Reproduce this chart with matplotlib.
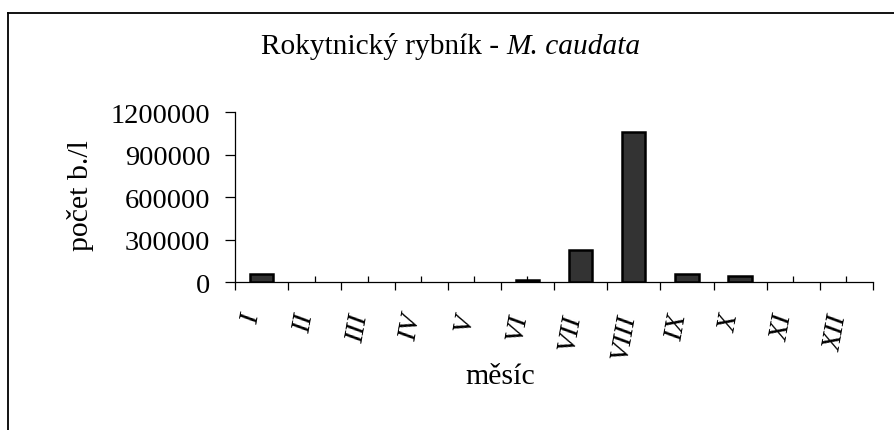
import matplotlib
matplotlib.use("Agg")
import matplotlib.pyplot as plt
from matplotlib.lines import Line2D
from matplotlib.ticker import FixedLocator, NullFormatter, FixedFormatter
from matplotlib.transforms import ScaledTranslation

# Monthly abundance of M. caudata (individuals per litre)
months = ["I", "II", "III", "IV", "V", "VI", "VII", "VIII", "IX", "X", "XI", "XII"]
counts = [60000, 0, 0, 0, 0, 15000, 228000, 1058000, 60000, 42000, 0, 0]
y_ticks = [0, 300000, 600000, 900000, 1200000]

SERIF = ["Liberation Serif", "DejaVu Serif"]
plt.rcParams["font.family"] = SERIF

W, H = 894, 431
fig = plt.figure(figsize=(W / 100, H / 100), dpi=100)

# plot area in pixel coordinates
x0, x1 = 235, 873
y_top, y_base = 113.3, 283.3
ax = fig.add_axes([x0 / W, 1 - y_base / H, (x1 - x0) / W, (y_base - y_top) / H])

pos = list(range(len(months)))
# empty months get no outline so nothing is drawn on the baseline
edge_w = [1.8 if c > 0 else 0 for c in counts]
ax.bar(pos, counts, width=0.44, color="#333333", edgecolor="black", linewidth=edge_w, zorder=3)

ax.set_xlim(-0.5, len(months) - 0.5)
ax.set_ylim(0, 1200000)

for s in ("top", "right"):
    ax.spines[s].set_visible(False)
for s in ("left", "bottom"):
    ax.spines[s].set_color("black")
    ax.spines[s].set_linewidth(0.9)

# category boundaries as outward major ticks, centres as inward minor ticks with labels
ax.xaxis.set_major_locator(FixedLocator([p - 0.5 for p in pos] + [len(months) - 0.5]))
ax.xaxis.set_major_formatter(NullFormatter())
ax.xaxis.set_minor_locator(FixedLocator(pos))
ax.xaxis.set_minor_formatter(FixedFormatter(months))
ax.tick_params(axis="x", which="major", direction="out", length=5.8, width=0.9, color="black")
ax.tick_params(axis="x", which="minor", direction="in", length=4.3, width=0.9, color="black",
               pad=21)

ax.set_yticks(y_ticks)
ax.set_yticklabels([str(v) for v in y_ticks], fontsize=20.5)
ax.tick_params(axis="y", direction="out", length=7, width=0.9, color="black", pad=11)

shift = ScaledTranslation(-10 / 100, 0, fig.dpi_scale_trans)
for lab in ax.xaxis.get_minorticklabels():
    lab.set_rotation(80)
    lab.set_fontstyle("italic")
    lab.set_fontsize(20.5)
    lab.set_ha("center")
    lab.set_va("top")
    lab.set_transform(lab.get_transform() + shift)

# axis titles
fig.text(80 / W, 1 - 196 / H, "počet b./l", rotation=90, ha="center", va="center", fontsize=21.5)
fig.text(500 / W, 1 - 377 / H, "měsíc", ha="center", va="center", fontsize=21.5)

# chart title: regular part followed by italic species name, centred as a whole
ty = 1 - 47 / H
t1 = fig.text(0, ty, "Rokytnický rybník - ", ha="left", va="center", fontsize=21.2)
t2 = fig.text(0, ty, "M. caudata", ha="left", va="center", fontsize=21.2, fontstyle="italic")
r = fig.canvas.get_renderer()
w1 = t1.get_window_extent(r).width
w2 = t2.get_window_extent(r).width
start = 451 - (w1 + w2) / 2
t1.set_x(start / W)
t2.set_x((start + w1) / W)

# chart frame
bx, by = 8, 13.5
fig.add_artist(Line2D([bx / W, bx / W], [1 - by / H, 0], transform=fig.transFigure,
                      color="black", linewidth=1.3))
fig.add_artist(Line2D([bx / W, 1], [1 - by / H, 1 - by / H], transform=fig.transFigure,
                      color="black", linewidth=1.3))

fig.savefig("out.png", dpi=100)
